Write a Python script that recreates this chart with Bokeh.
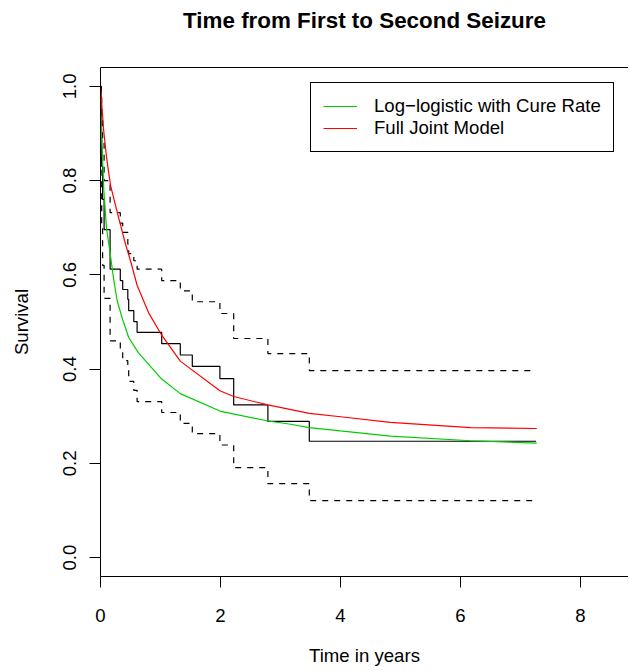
from bokeh.plotting import figure
from bokeh.models import (Range1d, LinearAxis, FixedTicker, Legend, LegendItem,
                          PrintfTickFormatter)
from bokeh.embed import file_html
from bokeh.resources import INLINE

# ---- data ----
km_time = [0.0, 0.01, 0.02, 0.035, 0.06, 0.16, 0.33, 0.37, 0.455, 0.47, 0.555, 0.61,
           1.02, 1.33, 1.53, 1.99, 2.22, 2.79, 3.48, 7.26]
km_surv = [1.0, 0.91, 0.83, 0.76, 0.696, 0.612, 0.588, 0.569, 0.548, 0.524, 0.501, 0.478,
           0.454, 0.430, 0.406, 0.380, 0.324, 0.289, 0.247, 0.247]
km_upper = [1.0, 0.98, 0.94, 0.88, 0.80, 0.732, 0.71, 0.69, 0.665, 0.645, 0.63, 0.612,
            0.588, 0.566, 0.543, 0.518, 0.465, 0.433, 0.397, 0.397]
km_lower = [1.0, 0.80, 0.70, 0.62, 0.55, 0.46, 0.44, 0.418, 0.40, 0.374, 0.355, 0.331,
            0.308, 0.285, 0.263, 0.239, 0.191, 0.157, 0.121, 0.121]

loglog_time = [0.0, 0.055, 0.1, 0.167, 0.22, 0.28, 0.36, 0.47, 0.63, 1.02, 1.33, 1.99,
               2.79, 3.17, 3.48, 4.0, 4.83, 6.17, 7.27]
loglog_surv = [0.954, 0.78, 0.70, 0.64, 0.59, 0.544, 0.509, 0.467, 0.435, 0.379, 0.348,
               0.311, 0.290, 0.283, 0.276, 0.269, 0.258, 0.248, 0.243]

joint_time = [0.0, 0.05, 0.1, 0.167, 0.305, 0.417, 0.5, 0.61, 0.8, 1.02, 1.33, 1.99,
              2.22, 2.79, 3.48, 4.0, 4.83, 6.17, 7.27]
joint_surv = [1.0, 0.91, 0.85, 0.79, 0.72, 0.665, 0.63, 0.578, 0.52, 0.472, 0.417, 0.354,
              0.342, 0.324, 0.306, 0.299, 0.287, 0.276, 0.274]

x_ticks = [0, 2, 4, 6, 8]
y_ticks = [0.0, 0.2, 0.4, 0.6, 0.8, 1.0]

title_text = "Time from First to Second Seizure"
x_label = "Time in years"
y_label = "Survival"
legend_labels = ["Log\u2212logistic with Cure Rate", "Full Joint Model"]

FONT = "Liberation Sans"
FS = "18.6px"

p = figure(width=628, height=670, output_backend="svg", toolbar_location=None,
           x_range=Range1d(0, 8.8), y_range=Range1d(-0.04, 1.04),
           min_border_left=100, min_border_right=0, min_border_top=66,
           min_border_bottom=94, x_axis_label=x_label, y_axis_label=y_label)
p.outline_line_color = None
p.grid.visible = False
p.background_fill_color = "white"
p.border_fill_color = "white"

for ax, ticks in ((p.xaxis[0], x_ticks), (p.yaxis[0], y_ticks)):
    ax.ticker = FixedTicker(ticks=ticks)
    ax.minor_tick_line_color = None
    ax.major_tick_in = 0
    ax.major_tick_out = 11
    ax.axis_line_color = "black"
    ax.major_tick_line_color = "black"
    ax.major_label_text_font = FONT
    ax.major_label_text_font_size = FS
    ax.major_label_text_color = "black"
    ax.axis_label_text_font = FONT
    ax.axis_label_text_font_size = FS
    ax.axis_label_text_font_style = "normal"
    ax.axis_label_text_color = "black"

p.yaxis[0].formatter = PrintfTickFormatter(format="%.1f")
p.yaxis[0].major_label_orientation = "vertical"
p.yaxis[0].major_label_standoff = 13
p.yaxis[0].axis_label_standoff = 29
p.xaxis[0].major_label_standoff = 21
p.xaxis[0].axis_label_standoff = 20

# top border of the box; its blank label only reserves room under the title
top_axis = LinearAxis(ticker=FixedTicker(ticks=[]), axis_line_color="black",
                      major_tick_line_color=None, minor_tick_line_color=None,
                      major_label_text_font_size="0px", axis_label=" ",
                      axis_label_text_font_size="10px", axis_label_standoff=16)
p.add_layout(top_axis, "above")

p.title.text = title_text
p.title.text_font = FONT
p.title.text_font_size = "22.4px"
p.title.text_font_style = "bold"
p.title.text_color = "black"
p.title.align = "center"
p.title.vertical_align = "bottom"
p.title.standoff = 10

p.step(km_time, km_surv, mode="after", line_color="black", line_width=1.2)
p.step(km_time, km_upper, mode="after", line_color="black", line_width=1.2,
       line_dash="6 6")
p.step(km_time, km_lower, mode="after", line_color="black", line_width=1.2,
       line_dash="6 6")
g = p.line(loglog_time, loglog_surv, line_color="#00CD00", line_width=1.2)
r = p.line(joint_time, joint_surv, line_color="#FF0000", line_width=1.2)

legend = Legend(items=[LegendItem(label=legend_labels[0], renderers=[g]),
                       LegendItem(label=legend_labels[1], renderers=[r])],
                location=(210, 424), border_line_color="black", border_line_width=1,
                border_line_alpha=1,
                background_fill_color="white", background_fill_alpha=1,
                label_text_font=FONT, label_text_font_size=FS,
                label_text_color="black",
                glyph_width=34, glyph_height=22, label_height=22, spacing=0,
                padding=12, label_standoff=17, margin=0)
p.add_layout(legend)

open("out.html", "w").write(file_html(p, INLINE))
